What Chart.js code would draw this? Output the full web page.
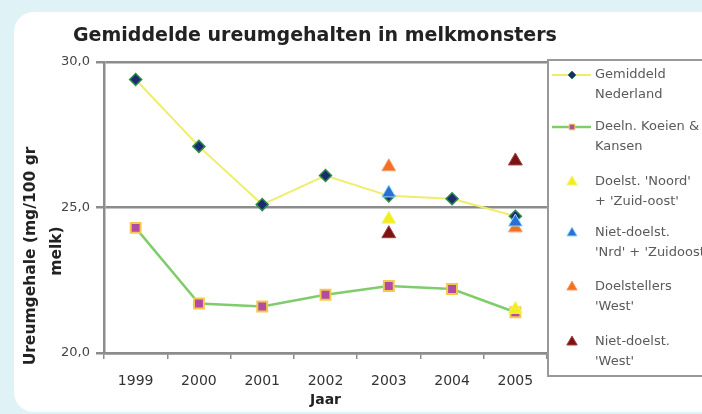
<!DOCTYPE html>
<html>
<head>
<meta charset="utf-8">
<script src="https://cdn.jsdelivr.net/npm/chart.js@4.4.1/dist/chart.umd.min.js"></script>
<style>
  html, body { margin: 0; padding: 0; background: #dff3f6; overflow: hidden; }
  #card { position: absolute; left: 14px; top: 12px; width: 720px; height: 400px; background: #fff; border-radius: 20px; }
  #wrap { position: absolute; left: 0; top: 0; width: 702px; height: 414px; }
</style>
</head>
<body>
<div id="card"></div>
<div id="wrap"><canvas id="c" width="702" height="414"></canvas></div>
<script>
// Gemiddelde ureumgehalten in melkmonsters
const years = ['1999', '2000', '2001', '2002', '2003', '2004', '2005'];
const gemNederland = [29.4, 27.1, 25.1, 26.1, 25.4, 25.3, 24.7];
const koeienKansen = [24.3, 21.7, 21.6, 22.0, 22.3, 22.2, 21.4];
const doelstNoordZO = [null, null, null, null, 24.6, null, 21.5];
const nietDoelstNoordZO = [null, null, null, null, 25.5, null, 24.5];
const doelstWest = [null, null, null, null, 26.4, null, 24.3];
const nietDoelstWest = [null, null, null, null, 24.1, null, 26.6];
const seriesNames = [
  ['Gemiddeld', 'Nederland'],
  ['Deeln. Koeien &', 'Kansen'],
  ["Doelst. 'Noord'", "+ 'Zuid-oost'"],
  ['Niet-doelst.', "'Nrd' + 'Zuidoost'"],
  ['Doelstellers', "'West'"],
  ['Niet-doelst.', "'West'"]
];
const yTicks = [20, 25, 30];
const yTitle = ['Ureumgehale (mg/100 gr', 'melk)'];

const axisGray = '#8c8c8c';

function triangleSet(idx, data, fill, border) {
  return {
    label: seriesNames[idx].join(' '),
    data,
    showLine: false,
    pointStyle: 'triangle',
    pointRadius: 8,
    pointBackgroundColor: fill,
    pointBorderColor: border,
    pointBorderWidth: 1,
    order: 1
  };
}

// titel, y-astitel en legenda zelf tekenen (twee regels per item, kader)
const extras = {
  id: 'extras',
  afterDraw(chart) {
    const ctx = chart.ctx;
    ctx.save();
    ctx.fillStyle = '#222';
    ctx.font = 'bold 19px "DejaVu Sans", sans-serif';
    ctx.textBaseline = 'middle';
    ctx.textAlign = 'left';
    ctx.fillText('Gemiddelde ureumgehalten in melkmonsters', 73, 36);

    // y-as titel, gedraaid
    ctx.save();
    ctx.translate(31, 256);
    ctx.rotate(-Math.PI / 2);
    ctx.textAlign = 'center';
    ctx.font = 'bold 15.5px "DejaVu Sans", sans-serif';
    ctx.fillText(yTitle[0], 0, 0);
    ctx.fillText(yTitle[1], 5, 26);
    ctx.restore();

    // legend box
    ctx.fillStyle = '#fff';
    ctx.fillRect(548, 60, 172, 316);
    ctx.strokeStyle = '#999';
    ctx.lineWidth = 2;
    ctx.strokeRect(548, 60, 172, 316);

    const rows = [75, 127, 182, 233, 287, 342];
    chart.data.datasets.forEach((ds, i) => {
      const y = rows[i];
      const isLine = ds.showLine !== false;
      if (isLine) {
        ctx.strokeStyle = ds.borderColor;
        ctx.lineWidth = ds.borderWidth;
        ctx.beginPath();
        ctx.moveTo(552, y);
        ctx.lineTo(591, y);
        ctx.stroke();
      }
      ctx.fillStyle = ds.pointBackgroundColor;
      ctx.strokeStyle = ds.pointBorderColor;
      ctx.lineWidth = 1;
      Chart.helpers.drawPoint(ctx, {
        pointStyle: ds.pointStyle,
        radius: isLine ? 4 : 6,
        rotation: 0,
        borderWidth: 1
      }, 572, y);
      ctx.fillStyle = '#5a5a5a';
      ctx.font = '13px "DejaVu Sans", sans-serif';
      ctx.textAlign = 'left';
      ctx.fillText(seriesNames[i][0], 595, y);
      ctx.fillText(seriesNames[i][1], 595, y + 20);
    });
    ctx.restore();
  }
};

new Chart(document.getElementById('c'), {
  type: 'line',
  data: {
    labels: years,
    datasets: [
      {
        label: seriesNames[0].join(' '),
        data: gemNederland,
        borderColor: '#eeee6a',
        borderWidth: 2,
        pointStyle: 'rectRot',
        pointRadius: 6,
        pointBackgroundColor: '#1d2a70',
        pointBorderColor: '#2e8b4a',
        pointBorderWidth: 1.5,
        tension: 0,
        order: 5
      },
      {
        label: seriesNames[1].join(' '),
        data: koeienKansen,
        borderColor: '#80cc6c',
        borderWidth: 2.5,
        pointStyle: 'rect',
        pointRadius: 7,
        pointBackgroundColor: '#b04ca4',
        pointBorderColor: '#f6c84a',
        pointBorderWidth: 2,
        tension: 0,
        order: 5
      },
      triangleSet(2, doelstNoordZO, '#f2ee1e', '#f6f27a'),
      triangleSet(3, nietDoelstNoordZO, '#2a6fd6', '#8fe0f4'),
      triangleSet(4, doelstWest, '#f27020', '#f5a070'),
      triangleSet(5, nietDoelstWest, '#7c1212', '#a04040')
    ]
  },
  options: {
    responsive: false,
    animation: false,
    layout: { padding: { top: 62, right: 155, left: 0, bottom: 0 } },
    plugins: { legend: { display: false }, tooltip: { enabled: false } },
    scales: {
      x: {
        offset: true,
        afterFit: (s) => { s.height = 61; },
        grid: { display: true, offset: true, drawOnChartArea: false, drawTicks: true, tickLength: 6, color: axisGray, lineWidth: 1.5 },
        border: { display: true, color: axisGray, width: 2.5 },
        ticks: { color: '#333', padding: 14, font: { family: 'DejaVu Sans', size: 14 } },
        title: { display: true, text: 'Jaar', color: '#222', padding: { top: 0, bottom: 5 }, font: { family: 'DejaVu Sans', size: 14, weight: 'bold' } }
      },
      y: {
        min: yTicks[0],
        max: yTicks[yTicks.length - 1],
        afterFit: (s) => { s.width = 104; },
        afterBuildTicks: (s) => { s.ticks = yTicks.map(v => ({ value: v })); },
        grid: { color: axisGray, lineWidth: 2.5, tickLength: 8 },
        border: { display: true, color: axisGray, width: 2.5 },
        ticks: {
          color: '#444',
          padding: 6,
          font: { family: 'DejaVu Sans', size: 13 },
          callback: (v) => v.toFixed(1).replace('.', ',')
        }
      }
    }
  },
  plugins: [extras]
});
</script>
</body>
</html>
